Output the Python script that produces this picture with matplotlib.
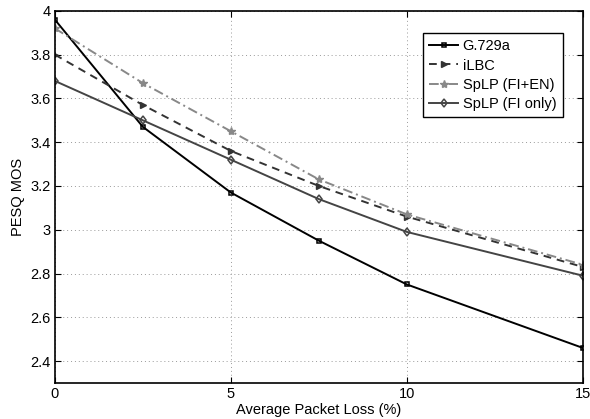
import matplotlib
matplotlib.use('Agg')
import matplotlib.pyplot as plt

plt.rcParams['font.family'] = ['Liberation Sans', 'DejaVu Sans']

# 数据
loss = [0, 2.5, 5, 7.5, 10, 15]
g729a = [3.96, 3.47, 3.17, 2.95, 2.75, 2.46]
ilbc = [3.80, 3.57, 3.36, 3.20, 3.06, 2.83]
splp_fien = [3.92, 3.67, 3.45, 3.23, 3.07, 2.84]
splp_fi = [3.68, 3.50, 3.32, 3.14, 2.99, 2.79]

fig = plt.figure(figsize=(5.9, 4.19), dpi=100)
ax = fig.add_axes([0.093, 0.086, 0.895, 0.888])

ax.plot(loss, g729a, color='black', lw=1.4, ls='-', marker='s', ms=3.5,
        mfc='none', mec='black', mew=1.1, label='G.729a')
ax.plot(loss, ilbc, color='#333333', lw=1.4, ls=(0, (4, 3)), marker='>', ms=5,
        mfc='#333333', mec='#333333', label='iLBC')
ax.plot(loss, splp_fien, color='#888888', lw=1.4, ls=(0, (5, 2, 1, 2)), marker='*', ms=6,
        mfc='#888888', mec='#888888', label='SpLP (FI+EN)')
ax.plot(loss, splp_fi, color='#444444', lw=1.4, ls='-', marker='d', ms=4.5,
        mfc='none', mec='#444444', mew=1.1, label='SpLP (FI only)')

ax.set_xlim(0, 15)
ax.set_ylim(2.3, 4.0)
ax.set_xticks([0, 5, 10, 15])
ax.set_yticks([2.4, 2.6, 2.8, 3.0, 3.2, 3.4, 3.6, 3.8, 4.0])
ax.set_yticklabels(['2.4', '2.6', '2.8', '3', '3.2', '3.4', '3.6', '3.8', '4'])
ax.tick_params(direction='in', top=True, right=True, labelsize=10.5, length=4, pad=3)
ax.grid(True, ls=(0, (1, 3)), color='#999999', lw=0.7)
for s in ax.spines.values():
    s.set_linewidth(1.2)

ax.set_xlabel('Average Packet Loss (%)', fontsize=10.5, labelpad=1)
ax.set_ylabel('PESQ MOS', fontsize=10.5, labelpad=4)

leg = ax.legend(loc='upper right', bbox_to_anchor=(0.962, 0.941), fontsize=10.5,
                fancybox=False, edgecolor='black', framealpha=1,
                handlelength=2.0, handletextpad=0.3, borderpad=0.45, labelspacing=0.35,
                borderaxespad=0)
leg.get_frame().set_linewidth(1.0)

fig.savefig('out.png', dpi=100)
